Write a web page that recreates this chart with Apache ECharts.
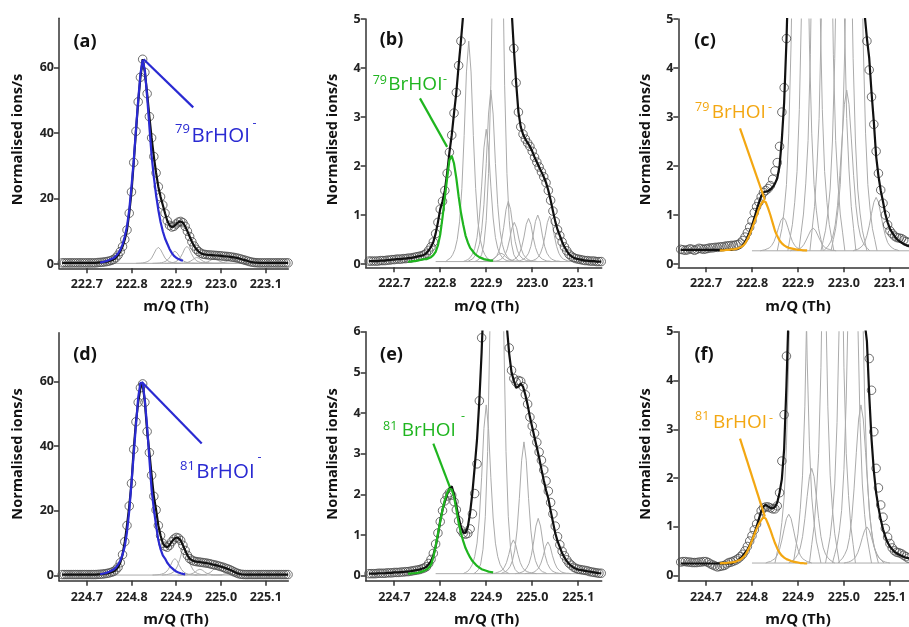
<!DOCTYPE html>
<html><head><meta charset="utf-8">
<script src="https://cdn.jsdelivr.net/npm/echarts@6/dist/echarts.min.js"></script>
<style>html,body{margin:0;padding:0;background:#fff}#c{width:909px;height:627px}</style>
</head><body><div id="c"></div><script>
const STEP = 0.005;
const FONT = 'Open Sans';
const BLUE = '#2a2ad2', GREEN = '#1fb51f', ORANGE = '#f3a712', GRAY = '#ababab';

// ---- tick values ----
const xTicksTop = [222.7, 222.8, 222.9, 223.0, 223.1];
const xTicksBot = [224.7, 224.8, 224.9, 225.0, 225.1];
const yTicksBig = [0, 20, 40, 60];
const yTicks5 = [0, 1, 2, 3, 4, 5];
const yTicks6 = [0, 1, 2, 3, 4, 5, 6];

// ---- measured spectra (circles), sampled every 0.005 Th ----
const startTop = 222.645, startBot = 224.645;
const measA = [0.35,0.35,0.35,0.35,0.35,0.35,0.35,0.35,0.35,0.35,0.35,0.35,0.35,0.35,0.35,0.35,
 0.45,0.5,0.55,0.65,0.75,0.9,1.1,1.4,1.9,2.7,
 3.8,5.3,7.5,10.4,15.5,22,31,40.5,49.5,57,
 62.5,58.5,52,45,38.5,32.8,27.8,23.6,20.5,18,
 15.5,13.2,11.8,11.3,11.5,12.2,12.8,13.0,12.6,11.5,
 10.0,8.4,6.8,5.5,4.5,3.8,3.3,3.0,2.9,2.8,
 2.75,2.7,2.65,2.6,2.55,2.5,2.4,2.35,2.3,2.2,
 2.1,2.0,1.85,1.7,1.5,1.3,1.1,0.9,0.7,0.55,
 0.45,0.4,
 0.35,0.35,0.35,0.35,0.35,0.35,0.35,0.35,0.35,0.35,0.35,0.35,0.35,0.35];
const measB = [0.06,0.06,0.06,0.06,0.06,0.07,0.07,0.07,0.08,0.08,
 0.09,0.09,0.1,0.1,0.1,0.11,0.11,0.12,0.12,0.13,
 0.14,0.15,0.16,0.17,0.19,0.22,0.28,0.35,0.45,0.62,
 0.85,1.12,1.28,1.5,1.85,2.28,2.63,3.08,3.5,4.05,
 4.55,5.1,
 5.9,7,8.5,10.5,13,15.5,18,20,22,25,28,30,29,26,21,16,12,9,7,5.8,5.2,
 4.4,3.7,3.1,2.8,2.65,2.55,2.47,2.4,
 2.3,2.18,2.08,1.98,1.88,1.78,1.66,1.5,1.3,1.08,
 0.87,0.7,0.58,0.45,0.35,0.27,0.2,0.16,0.13,0.11,
 0.1,0.09,0.08,0.07,0.07,0.06,0.06,0.06,0.05,0.05,
 0.05];
const measC = [0.3,0.29,0.28,0.29,0.31,0.3,0.28,0.3,0.32,0.31,
 0.3,0.31,0.32,0.33,0.33,0.34,0.34,0.35,0.35,0.36,
 0.37,0.37,0.38,0.38,0.39,0.4,0.43,0.48,0.55,0.64,
 0.75,0.88,1.05,1.17,1.26,1.37,1.46,1.5,1.54,1.6,
 1.73,1.9,2.07,2.4,3.1,3.6,4.6,
 5.8,7,9,12,16,20,25,30,35,40,44,47,49,50,50,49,47,44,40,36,32,28,24,20,16,13,11,9,7.5,6.5,6,5.7,5.4,5.2,
 4.55,3.96,3.41,2.85,2.3,1.85,1.51,1.24,1.0,0.8,0.68,0.62,0.57,0.54,0.53,0.52,0.49,0.46,0.44,0.42,0.4];
const measD = [0.35,0.35,0.35,0.35,0.35,0.35,0.35,0.35,0.35,0.35,0.35,0.35,0.35,0.35,0.35,0.35,
 0.4,0.45,0.5,0.6,0.7,0.85,1.05,1.3,1.8,2.6,
 4.0,6.5,10.5,15.5,21.5,28.5,39,47.5,53.5,58,
 59.2,53.5,44.5,38,31,24.5,20.3,15.5,12.4,10,
 9.1,8.8,9.4,10.5,11.3,11.8,11.6,10.9,9.4,7.8,
 6.3,5.3,4.8,4.5,4.35,4.25,4.15,4.05,3.95,3.85,
 3.7,3.5,3.35,3.2,3.0,2.8,2.6,2.35,2.1,1.85,
 1.5,1.15,0.85,0.6,0.45,0.38,
 0.35,0.35,0.35,0.35,0.35,0.35,0.35,0.35,0.35,0.35,0.35,0.35,0.35,0.35,0.35,0.35,0.35,0.35,0.35,0.35];
const measE = [0.05,0.05,0.05,0.05,0.06,0.06,0.06,0.06,0.07,0.07,0.07,0.08,0.08,0.08,0.09,0.09,
 0.1,0.1,0.11,0.12,0.13,0.14,0.15,0.17,0.19,0.22,
 0.3,0.4,0.55,0.78,1.05,1.33,1.6,1.84,1.96,2.04,
 1.98,1.82,1.62,1.35,1.12,1.04,1.02,1.04,1.15,1.52,
 2.02,2.75,4.3,5.85,
 7,9,12,15,18,20,19,16,12,9,6.3,
 5.6,5.05,4.85,4.76,4.8,4.78,4.65,4.45,4.22,3.9,
 3.68,3.5,3.28,3.04,2.84,2.6,2.33,2.08,1.8,1.52,
 1.22,0.96,0.76,0.6,0.49,0.39,0.31,0.26,0.21,0.18,
 0.16,0.15,0.14,0.13,0.12,0.1,0.09,0.08,0.07,0.06,
 0.06];
const measF = [0.28,0.29,0.29,0.28,0.28,0.27,0.27,0.27,0.28,0.28,
 0.29,0.29,0.27,0.24,0.22,0.2,0.18,0.19,0.2,0.21,
 0.24,0.27,0.28,0.3,0.32,0.35,0.39,0.44,0.51,0.6,
 0.71,0.82,0.94,1.06,1.2,1.33,1.39,1.41,1.41,1.39,
 1.37,1.37,1.43,1.7,2.35,3.3,4.5,
 5.8,7,9,12,16,20,25,30,35,40,44,47,49,50,50,49,47,44,40,36,32,28,24,20,16,13,11,9,7.5,6.5,6,5.7,5.4,5.2,
 5.05,4.45,3.8,2.95,2.2,1.8,1.45,1.2,0.97,0.79,0.66,0.57,0.51,0.48,0.47,0.45,0.42,0.39,0.36,0.34,0.32];

// ---- total fits (black lines) ----
const fitA = measA, fitB = measB, fitD = measD;
const fitC = [0.29,0.29,0.29,0.29,0.29,0.29,0.29,0.29,0.29,0.29,0.29,0.29,0.29,0.29,0.29,0.29,0.29,0.29,0.29,0.29,0.29,0.29,0.29,0.3,0.3,
 0.31,0.33,0.38,0.45,0.54,0.65,0.78,0.93,1.1,1.25,
 1.38,1.46,1.48,1.49,1.52,1.57,1.64,1.75,2.0,2.55,
 3.3,4.55,
 6.2,7,9,12,16,20,25,30,35,40,44,47,49,50,50,49,47,44,40,36,32,28,24,20,16,13,11,9,7.5,6.5,6,5.7,5.4,5.1,
 4.6,4.2,3.5,2.9,2.2,1.8,1.5,1.27,1.02,0.85,0.72,0.64,0.57,0.51,0.47,0.44,0.41,0.39,0.37,0.36,0.35];
const fitE = [0.05,0.05,0.05,0.05,0.06,0.06,0.06,0.06,0.07,0.07,0.07,0.08,0.08,0.08,0.09,0.09,
 0.1,0.1,0.11,0.12,0.13,0.14,0.15,0.17,0.19,0.22,
 0.28,0.36,0.5,0.72,1.0,1.35,1.62,1.82,2.0,2.15,
 2.2,2.0,1.72,1.44,1.2,1.06,1.05,1.2,1.55,2.05,
 2.68,3.35,4.3,5.5,
 7,9,12,15,18,20,19,16,12,9,
 6.1,
 5.45,5.0,4.8,4.62,4.65,4.72,4.65,4.45,4.2,3.9,
 3.65,3.4,3.15,2.9,2.62,2.35,2.1,1.9,1.6,1.32,
 1.05,0.85,0.7,0.55,0.45,0.36,0.29,0.24,0.2,0.17,
 0.15,0.14,0.13,0.12,0.11,0.1,0.09,0.08,0.07,0.06,
 0.06];
const fitF = [0.25,0.25,0.25,0.25,0.25,0.25,0.25,0.25,0.25,0.25,0.25,0.25,0.25,0.25,0.25,0.25,0.25,0.25,0.25,0.25,0.25,0.25,0.25,
 0.27,0.29,0.32,0.36,0.41,0.47,0.53,0.62,0.72,0.86,
 1.0,1.16,1.32,1.42,1.45,1.42,1.39,1.38,1.41,1.5,
 1.7,1.98,2.6,3.9,
 5.5,7,9,12,16,20,25,30,35,40,44,47,49,50,50,49,47,44,40,36,32,28,24,20,16,13,11,9,7.5,6.5,6,5.7,5.4,5.2,
 4.8,3.7,2.8,2.15,1.7,1.4,1.15,0.95,0.8,0.68,0.6,0.54,0.49,0.46,0.43,0.41,0.39,0.37,0.36,0.35,0.34];

// ---- BrHOI- components (coloured) ----
const compStartTop = 222.73, compStartBot = 224.73;
const blueA = [0.5,0.6,0.75,0.95,1.2,1.5,1.8,2.4,3.2,4.3,6,8.4,11.5,16.5,23.6,31.5,41,50,58,62.3,59,51,42,33,26.5,21,16.5,12.8,10,7.8,6.2,4.6,3.4,2.5,1.9,1.5,1.2,1.0];
const greenB = [0.05,0.05,0.06,0.06,0.07,0.08,0.09,0.1,0.1,0.12,0.14,0.18,0.25,0.38,0.6,0.95,1.35,1.75,2.12,2.21,2.05,1.75,1.38,1.05,0.8,0.58,0.44,0.33,0.27,0.21,0.17,0.14,0.12,0.1,0.09,0.08,0.07,0.07];
const orangeC = [0.28,0.28,0.28,0.29,0.29,0.3,0.3,0.31,0.32,0.34,0.37,0.42,0.5,0.6,0.72,0.85,0.98,1.12,1.23,1.29,1.26,1.14,1.0,0.84,0.68,0.57,0.48,0.42,0.38,0.35,0.33,0.32,0.31,0.3,0.29,0.29,0.28,0.28,0.28];
const blueD = [0.5,0.6,0.75,0.95,1.2,1.5,1.9,2.5,3.4,4.7,6.5,9.0,13.5,20,28.5,37.5,46.5,55,59.5,59.5,54,46,36,26.5,20.5,15.5,11,8.2,6.3,5.3,4.0,3.1,2.4,1.8,1.3,1.0,0.75,0.55,0.4];
const greenE = [0.05,0.05,0.06,0.06,0.07,0.08,0.1,0.12,0.15,0.19,0.27,0.45,0.72,1.03,1.33,1.62,1.86,2.03,2.14,2.12,1.94,1.63,1.3,1.05,0.85,0.68,0.56,0.45,0.36,0.3,0.24,0.2,0.16,0.14,0.12,0.1,0.09,0.08];
const orangeF = [0.25,0.26,0.26,0.26,0.27,0.27,0.28,0.29,0.31,0.33,0.37,0.42,0.5,0.6,0.72,0.84,0.96,1.06,1.14,1.2,1.17,1.06,0.94,0.8,0.67,0.56,0.47,0.41,0.37,0.34,0.32,0.3,0.29,0.28,0.27,0.26,0.26,0.25,0.25];

// ---- other fitted peaks (grey): [start m/Q, values every 0.005] ----
const grayA = [
 [222.81,[0.2,0.24,0.27,0.35,0.47,0.69,1.08,1.82,3.09,4.41,5.1,4.41,3.09,1.82,1.08,0.69,0.47,0.35,0.27,0.24,0.2]],
 [222.847,[0.2,0.23,0.26,0.31,0.4,0.57,0.87,1.42,2.31,3.38,3.9,3.38,2.31,1.42,0.87,0.57,0.4,0.31,0.26,0.23,0.2]],
 [222.874,[0.2,0.24,0.28,0.36,0.49,0.72,1.14,1.92,3.16,4.67,5.4,4.67,3.16,1.92,1.14,0.72,0.49,0.36,0.28,0.24,0.2]],
 [222.896,[0.2,0.21,0.23,0.25,0.3,0.38,0.52,0.79,1.23,1.75,2.0,1.75,1.23,0.79,0.52,0.38,0.3,0.25,0.23,0.21,0.2]],
 [222.935,[0.2,0.21,0.22,0.24,0.28,0.34,0.45,0.66,1.0,1.4,1.6,1.4,1.0,0.66,0.45,0.34,0.28,0.24,0.22,0.21,0.2]],
 [222.975,[0.2,0.21,0.22,0.24,0.28,0.34,0.45,0.66,1.0,1.4,1.6,1.4,1.0,0.66,0.45,0.34,0.28,0.24,0.22,0.21,0.2]]
];
const grayB = [
 [222.812,[0.05,0.09,0.12,0.19,0.3,0.5,0.86,1.54,2.62,3.92,4.55,3.92,2.62,1.54,0.86,0.5,0.3,0.19,0.12,0.09,0.05]],
 [222.875,[0.05,0.07,0.11,0.19,0.41,0.89,1.85,3.65,6.65,10.25,12.05,10.25,6.65,3.65,1.85,0.89,0.41,0.19,0.11,0.07,0.05]],
 [222.86,[0.05,0.08,0.1,0.16,0.24,0.4,0.68,1.21,2.05,3.06,3.55,3.06,2.05,1.21,0.68,0.4,0.24,0.16,0.1,0.08,0.05]],
 [222.85,[0.05,0.07,0.09,0.13,0.2,0.32,0.54,0.94,1.59,2.37,2.75,2.37,1.59,0.94,0.54,0.32,0.2,0.13,0.09,0.07,0.05]],
 [222.898,[0.05,0.06,0.07,0.09,0.12,0.17,0.27,0.46,0.75,1.11,1.28,1.11,0.75,0.46,0.27,0.17,0.12,0.09,0.07,0.06,0.05]],
 [222.911,[0.05,0.06,0.06,0.07,0.09,0.13,0.19,0.31,0.51,0.74,0.85,0.74,0.51,0.31,0.19,0.13,0.09,0.07,0.06,0.06,0.05]],
 [222.942,[0.05,0.06,0.06,0.08,0.1,0.14,0.21,0.34,0.55,0.81,0.93,0.81,0.55,0.34,0.21,0.14,0.1,0.08,0.06,0.06,0.05]],
 [222.962,[0.05,0.06,0.06,0.08,0.1,0.15,0.22,0.36,0.59,0.87,1.0,0.87,0.59,0.36,0.22,0.15,0.1,0.08,0.06,0.06,0.05]],
 [222.988,[0.05,0.06,0.06,0.08,0.1,0.14,0.22,0.36,0.58,0.85,0.98,0.85,0.58,0.36,0.22,0.14,0.1,0.08,0.06,0.06,0.05]],
 [222.882,[0.05,0.05,0.05,0.06,0.06,0.07,0.08,0.11,0.15,0.2,0.22,0.2,0.15,0.11,0.08,0.07,0.06,0.06,0.05,0.05,0.05]]
];
const grayC = [
 [222.818,[0.27,0.28,0.29,0.31,0.33,0.38,0.46,0.59,0.75,0.89,0.95,0.89,0.75,0.59,0.46,0.38,0.33,0.31,0.29,0.28,0.27]],
 [222.883,[0.27,0.28,0.28,0.3,0.31,0.34,0.4,0.49,0.59,0.69,0.73,0.69,0.59,0.49,0.4,0.34,0.31,0.3,0.28,0.28,0.27]],
 [222.956,[0.27,0.32,0.37,0.45,0.57,0.8,1.19,1.81,2.57,3.26,3.55,3.26,2.57,1.81,1.19,0.8,0.57,0.45,0.37,0.32,0.27]],
 [223.02,[0.27,0.29,0.3,0.33,0.37,0.44,0.58,0.78,1.03,1.26,1.36,1.26,1.03,0.78,0.58,0.44,0.37,0.33,0.3,0.29,0.27]],
 [222.855,[0.27,0.5,0.72,1.1,1.62,2.67,4.47,7.32,10.77,13.92,15.27,13.92,10.77,7.32,4.47,2.67,1.62,1.1,0.72,0.5,0.27]],
 [222.878,[0.27,0.54,0.81,1.26,1.89,3.15,5.31,8.73,12.87,16.65,18.27,16.65,12.87,8.73,5.31,3.15,1.89,1.26,0.81,0.54,0.27]],
 [222.902,[0.27,0.65,1.02,1.65,2.52,4.27,7.27,12.02,17.77,23.02,25.27,23.02,17.77,12.02,7.27,4.27,2.52,1.65,1.02,0.65,0.27]],
 [222.926,[0.27,0.72,1.17,1.92,2.97,5.07,8.67,14.37,21.27,27.57,30.27,27.57,21.27,14.37,8.67,5.07,2.97,1.92,1.17,0.72,0.27]],
 [222.95,[0.27,0.48,0.69,1.04,1.53,2.51,4.19,6.85,10.07,13.01,14.27,13.01,10.07,6.85,4.19,2.51,1.53,1.04,0.69,0.48,0.27]],
 [222.972,[0.27,0.5,0.72,1.1,1.62,2.67,4.47,7.32,10.77,13.92,15.27,13.92,10.77,7.32,4.47,2.67,1.62,1.1,0.72,0.5,0.27]]
];
const grayD = [
 [224.847,[0.2,0.24,0.28,0.35,0.48,0.71,1.12,1.88,3.11,4.59,5.3,4.59,3.11,1.88,1.12,0.71,0.48,0.35,0.28,0.24,0.2]],
 [224.868,[0.2,0.27,0.33,0.46,0.67,1.05,1.73,3.01,5.05,7.51,8.7,7.51,5.05,3.01,1.73,1.05,0.67,0.46,0.33,0.27,0.2]],
 [224.903,[0.2,0.21,0.23,0.25,0.3,0.38,0.52,0.79,1.23,1.75,2.0,1.75,1.23,0.79,0.52,0.38,0.3,0.25,0.23,0.21,0.2]],
 [224.941,[0.2,0.22,0.24,0.27,0.33,0.44,0.63,0.99,1.57,2.26,2.6,2.26,1.57,0.99,0.63,0.44,0.33,0.27,0.24,0.22,0.2]],
 [224.978,[0.2,0.21,0.22,0.25,0.28,0.35,0.47,0.7,1.06,1.49,1.7,1.49,1.06,0.7,0.47,0.35,0.28,0.25,0.22,0.21,0.2]]
];
const grayE = [
 [224.85,[0.05,0.08,0.11,0.18,0.28,0.47,0.8,1.42,2.42,3.62,4.2,3.62,2.42,1.42,0.8,0.47,0.28,0.18,0.11,0.08,0.05]],
 [224.873,[0.05,0.09,0.15,0.29,0.65,1.45,3.05,6.05,11.05,17.05,20.05,17.05,11.05,6.05,3.05,1.45,0.65,0.29,0.15,0.09,0.05]],
 [224.909,[0.05,0.06,0.06,0.08,0.1,0.13,0.2,0.32,0.52,0.76,0.88,0.76,0.52,0.32,0.2,0.13,0.1,0.08,0.06,0.06,0.05]],
 [224.932,[0.05,0.08,0.1,0.15,0.23,0.37,0.63,1.12,1.9,2.84,3.29,2.84,1.9,1.12,0.63,0.37,0.23,0.15,0.1,0.08,0.05]],
 [224.963,[0.05,0.06,0.07,0.09,0.12,0.19,0.3,0.5,0.83,1.22,1.41,1.22,0.83,0.5,0.3,0.19,0.12,0.09,0.07,0.06,0.05]],
 [224.984,[0.05,0.06,0.06,0.07,0.09,0.13,0.19,0.31,0.49,0.72,0.83,0.72,0.49,0.31,0.19,0.13,0.09,0.07,0.06,0.06,0.05]]
];
const grayF = [
 [224.83,[0.26,0.28,0.29,0.32,0.35,0.42,0.54,0.73,0.96,1.17,1.26,1.17,0.96,0.73,0.54,0.42,0.35,0.32,0.29,0.28,0.26]],
 [224.88,[0.26,0.29,0.32,0.37,0.44,0.57,0.8,1.17,1.62,2.03,2.2,2.03,1.62,1.17,0.8,0.57,0.44,0.37,0.32,0.29,0.26]],
 [224.987,[0.26,0.31,0.36,0.44,0.55,0.78,1.17,1.78,2.53,3.21,3.5,3.21,2.53,1.78,1.17,0.78,0.55,0.44,0.36,0.31,0.26]],
 [225.0,[0.26,0.27,0.28,0.3,0.33,0.38,0.47,0.61,0.78,0.93,1.0,0.93,0.78,0.61,0.47,0.38,0.33,0.3,0.28,0.27,0.26]],
 [224.85,[0.26,0.49,0.71,1.09,1.61,2.66,4.46,7.31,10.76,13.91,15.26,13.91,10.76,7.31,4.46,2.66,1.61,1.09,0.71,0.49,0.26]],
 [224.89,[0.26,0.56,0.86,1.36,2.06,3.46,5.86,9.66,14.26,18.46,20.26,18.46,14.26,9.66,5.86,3.46,2.06,1.36,0.86,0.56,0.26]],
 [224.925,[0.26,0.64,1.01,1.64,2.51,4.26,7.26,12.01,17.76,23.01,25.26,23.01,17.76,12.01,7.26,4.26,2.51,1.64,1.01,0.64,0.26]],
 [224.96,[0.26,0.53,0.8,1.25,1.88,3.14,5.3,8.72,12.86,16.64,18.26,16.64,12.86,8.72,5.3,3.14,1.88,1.25,0.8,0.53,0.26]],
 [224.975,[0.26,0.44,0.62,0.92,1.34,2.18,3.62,5.9,8.66,11.18,12.26,11.18,8.66,5.9,3.62,2.18,1.34,0.92,0.62,0.44,0.26]]
];
// fitted baselines
const baseA = [[222.645,0.2],[223.15,0.2]];
const baseB = [[222.79,0.05],[223.13,0.05]];
const baseC = [[222.8,0.27],[223.145,0.27]];
const baseD = [[224.645,0.2],[225.15,0.2]];
const baseE = [[224.79,0.05],[225.13,0.05]];
const baseF = [[224.8,0.26],[225.145,0.26]];
// annotation pointer lines
const ptrA = [[222.827,62.5],[222.938,47.8]];
const ptrB = [[222.756,3.38],[222.815,2.39]];
const ptrC = [[222.774,2.77],[222.828,1.31]];
const ptrD = [[224.823,59.8],[224.957,40.8]];
const ptrE = [[224.785,3.25],[224.821,2.18]];
const ptrF = [[224.774,2.81],[224.828,1.21]];

function pts(start, vals) { return vals.map((v, i) => [+(start + i * STEP).toFixed(4), v]); }

const panels = [
 {g:{left:59,top:18.3,width:229.3,height:250}, x:[222.638,223.1505], y:[-1.31,75], xt:xTicksTop, yt:yTicksBig, s0:startTop, meas:measA, fit:fitA, cs:compStartTop, comp:blueA, col:BLUE, gray:grayA, base:baseA, ptr:ptrA,
  letter:['(a)',85,41.5], ytitle:[18.3,139.5], xtitle:[176,307], lab:{iso:'79', fs:[13,20.5], sup:[175,129], main:[191.5,136.5], minus:[252.5,123]}},
 {g:{left:365.7,top:19,width:236,height:248.3}, x:[222.638,223.151], y:[-0.067,5], xt:xTicksTop, yt:yTicks5, s0:startTop, meas:measB, fit:fitB, cs:compStartTop, comp:greenB, col:GREEN, gray:grayB, base:baseB, ptr:ptrB,
  letter:['(b)',391.5,40], ytitle:[333,139.5], xtitle:[486.7,307], lab:{iso:'79', fs:[12.5,19], sup:[372.7,80], main:[388.3,85], minus:[443,79]}},
 {g:{left:678.3,top:19,width:230.7,height:248.3}, x:[222.6398,223.1413], y:[-0.067,5], xt:xTicksTop, yt:yTicks5, s0:startTop, meas:measC, fit:fitC, cs:compStartTop, comp:orangeC, col:ORANGE, gray:grayC, base:baseC, ptr:ptrC,
  letter:['(c)',705,41], ytitle:[646,139.5], xtitle:[798,307], lab:{iso:'79', fs:[12.5,19], sup:[695,107.5], main:[711.7,112.5], minus:[768,107]}},
 {g:{left:59,top:332.7,width:229.3,height:248}, x:[224.638,225.1505], y:[-1.54,75], xt:xTicksBot, yt:yTicksBig, s0:startBot, meas:measD, fit:fitD, cs:compStartBot, comp:blueD, col:BLUE, gray:grayD, base:baseD, ptr:ptrD,
  letter:['(d)',85,355], ytitle:[18.3,454], xtitle:[176,620], lab:{iso:'81', fs:[13,20.5], sup:[180,466], main:[196.2,472.5], minus:[257.5,457]}},
 {g:{left:365.7,top:331.7,width:236,height:249}, x:[224.638,225.151], y:[-0.123,6], xt:xTicksBot, yt:yTicks6, s0:startBot, meas:measE, fit:fitE, cs:compStartBot, comp:greenE, col:GREEN, gray:grayE, base:baseE, ptr:ptrE,
  letter:['(e)',391.5,354.5], ytitle:[333,454], xtitle:[486.7,620], lab:{iso:'81', fs:[12.5,19], sup:[383,426.7], main:[401.7,430.5], minus:[461,416]}},
 {g:{left:678.3,top:331.7,width:230.7,height:249}, x:[224.6398,225.1413], y:[-0.102,5], xt:xTicksBot, yt:yTicks5, s0:startBot, meas:measF, fit:fitF, cs:compStartBot, comp:orangeF, col:ORANGE, gray:grayF, base:baseF, ptr:ptrF,
  letter:['(f)',704,354.5], ytitle:[646,454], xtitle:[798,620], lab:{iso:'81', fs:[12.5,19], sup:[695,416.7], main:[713,422.5], minus:[769,418]}}
];

const AX = '#333';
const grid = [], xAxis = [], yAxis = [], series = [], graphic = [];
function txt(x, y, text, size, weight, color, align, rot) {
  const st = {text, fill: color, fontSize: size, fontFamily: FONT, fontWeight: weight,
    textAlign: align, textVerticalAlign: 'middle', align: align, verticalAlign: 'middle'};
  const el = {type: 'text', x, y, style: st, silent: true, z: 100};
  if (rot) el.rotation = rot;
  return el;
}
panels.forEach((p, i) => {
  grid.push(Object.assign({containLabel: false}, p.g));
  xAxis.push({type: 'value', gridIndex: i, min: p.x[0], max: p.x[1],
    axisLine: {show: true, onZero: false, lineStyle: {color: AX, width: 1.5}},
    axisTick: {show: true, length: 5, customValues: p.xt, lineStyle: {color: AX, width: 1.5}},
    axisLabel: {customValues: p.xt, formatter: v => v.toFixed(1), margin: 10, fontFamily: FONT, fontWeight: 'bold', fontSize: 12.5, color: '#222'},
    splitLine: {show: false}});
  yAxis.push({type: 'value', gridIndex: i, min: p.y[0], max: p.y[1],
    axisLine: {show: true, onZero: false, lineStyle: {color: AX, width: 1.5}},
    axisTick: {show: true, length: 5, customValues: p.yt, lineStyle: {color: AX, width: 1.5}},
    axisLabel: {customValues: p.yt, formatter: v => String(v), margin: 5, fontFamily: FONT, fontWeight: 'bold', fontSize: 12.5, color: '#222'},
    splitLine: {show: false}});
  const common = {xAxisIndex: i, yAxisIndex: i, silent: true, animation: false};
  p.gray.forEach(gp => series.push(Object.assign({type: 'line', data: pts(gp[0], gp[1]), showSymbol: false, symbol: 'none',
    lineStyle: {color: GRAY, width: 1}, z: 1}, common)));
  series.push(Object.assign({type: 'line', data: p.base, showSymbol: false, symbol: 'none', lineStyle: {color: GRAY, width: 1}, z: 1}, common));
  series.push(Object.assign({type: 'scatter', data: pts(p.s0, p.meas), symbol: 'circle', symbolSize: 8.5,
    itemStyle: {color: 'rgba(255,255,255,0)', borderColor: '#4a4a4a', borderWidth: 1}, z: 2}, common));
  series.push(Object.assign({type: 'line', data: pts(p.s0, p.fit), showSymbol: false, symbol: 'none', lineStyle: {color: '#111', width: 2.2}, z: 3}, common));
  series.push(Object.assign({type: 'line', data: pts(p.cs, p.comp), showSymbol: false, symbol: 'none', lineStyle: {color: p.col, width: 2.2}, z: 4}, common));
  series.push(Object.assign({type: 'line', data: p.ptr, showSymbol: false, symbol: 'none', lineStyle: {color: p.col, width: 2.2}, z: 4}, common));
  // texts
  graphic.push(txt(p.letter[1], p.letter[2], p.letter[0], 18, 'bold', '#111', 'center'));
  graphic.push(txt(p.ytitle[0], p.ytitle[1], 'Normalised ions/s', 14.5, 'bold', '#111', 'center', Math.PI / 2));
  graphic.push(txt(p.xtitle[0], p.xtitle[1], 'm/Q (Th)', 15, 'bold', '#111', 'center'));
  graphic.push(txt(p.lab.sup[0], p.lab.sup[1], p.lab.iso, p.lab.fs[0], 'normal', p.col, 'left'));
  graphic.push(txt(p.lab.main[0], p.lab.main[1], 'BrHOI', p.lab.fs[1], 'normal', p.col, 'left'));
  graphic.push(txt(p.lab.minus[0], p.lab.minus[1], '-', 12.5, 'normal', p.col, 'left'));
});

const chart = echarts.init(document.getElementById('c'), null, {renderer: 'canvas'});
chart.setOption({animation: false, backgroundColor: '#fff', grid, xAxis, yAxis, series, graphic});
</script></body></html>
